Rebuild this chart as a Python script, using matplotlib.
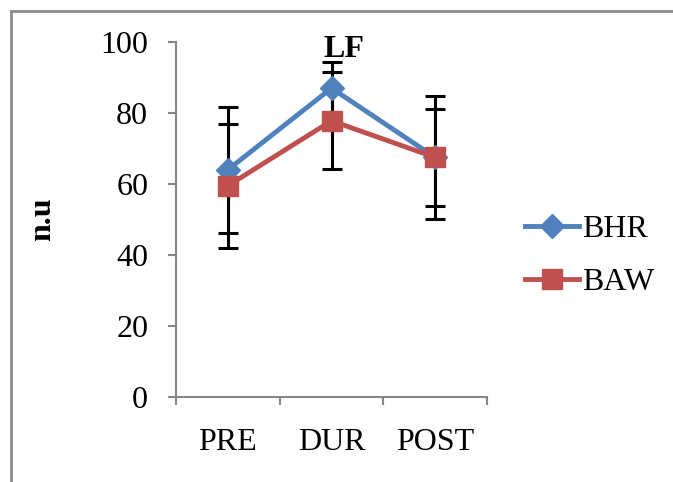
import matplotlib.pyplot as plt
from matplotlib.lines import Line2D

# DATA
categories = ['PRE', 'DUR', 'POST']
bhr = [64.0, 87.0, 67.5]
bhr_err = [17.7, 7.4, 17.4]
baw = [59.5, 77.8, 67.5]
baw_err = [17.5, 13.7, 13.7]

plt.rcParams['font.family'] = ['Liberation Serif', 'DejaVu Serif']
fs = 23

fig = plt.figure(figsize=(6.73, 4.82), dpi=100)
ax = fig.add_axes([176 / 673, 1 - 397 / 482, 311 / 673, 355 / 482])

# OUTER FRAME (cut at right and bottom)
fx, fy = 10.5 / 673, 1 - 10.5 / 482
fig.add_artist(Line2D([fx, 1.0], [fy, fy], transform=fig.transFigure, color='#8c8c8c', lw=2))
fig.add_artist(Line2D([fx, fx], [fy, 0.0], transform=fig.transFigure, color='#8c8c8c', lw=2))

xpos = [i + 0.5 for i in range(len(categories))]

ax.errorbar(xpos, bhr, yerr=bhr_err, fmt='none', ecolor='black', elinewidth=2.2, capsize=7, capthick=2.2, zorder=2)
ax.errorbar(xpos, baw, yerr=baw_err, fmt='none', ecolor='black', elinewidth=2.2, capsize=7, capthick=2.2, zorder=2)

ax.plot(xpos, bhr, color='#4F81BD', lw=3.5, marker='D', ms=12, label='BHR', zorder=3)
ax.plot(xpos, baw, color='#C0504D', lw=3.5, marker='s', ms=14, label='BAW', zorder=4)

# AXES
ax.set_xlim(0, 3)
ax.set_ylim(0, 100)
ax.set_yticks(range(0, 101, 20))
ax.set_xticks([0, 1, 2, 3])
ax.set_xticklabels([])
ax.set_xticks(xpos, minor=True)
ax.set_xticklabels(categories, minor=True)
ax.tick_params(axis='x', which='minor', length=0, pad=22, labelsize=fs)
ax.tick_params(axis='x', which='major', length=6, color='#868686', width=1.5)
ax.tick_params(axis='y', length=6, color='#868686', width=1.5, labelsize=fs, pad=14)

for side in ['top', 'right']:
    ax.spines[side].set_visible(False)
for side in ['left', 'bottom']:
    ax.spines[side].set_color('#868686')
    ax.spines[side].set_linewidth(1.5)

ax.set_ylabel('n.u', fontsize=fs, fontweight='bold', labelpad=31)
ax.text(0.54, 0.98, 'LF', transform=ax.transAxes, ha='center', va='center',
        fontsize=fs, fontweight='bold')

ax.legend(loc='center left', bbox_to_anchor=(525 / 673, 1 - 256 / 482),
          bbox_transform=fig.transFigure, frameon=False, fontsize=fs,
          handlelength=1.7, handletextpad=0.1, labelspacing=0.75, borderpad=0,
          borderaxespad=0)

fig.savefig('out.png', dpi=100)
